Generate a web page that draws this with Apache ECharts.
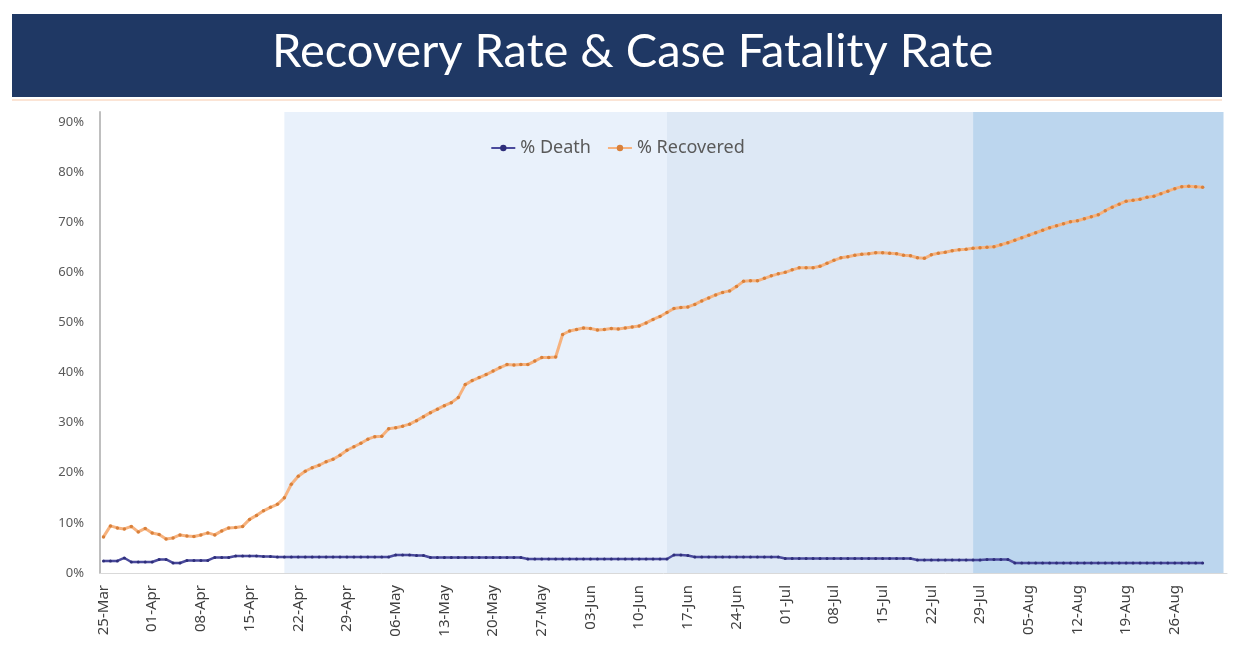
<!DOCTYPE html>
<html>
<head>
<meta charset="utf-8">
<title>Recovery Rate & Case Fatality Rate</title>
<script src="https://cdn.jsdelivr.net/npm/echarts@6/dist/echarts.min.js"></script>
<style>
  html, body { margin: 0; padding: 0; background: #fff; }
  #main { width: 1235px; height: 663px; }
</style>
</head>
<body>
<div id="main"></div>
<script>
// daily values from 25-Mar to 30-Aug, in %
const recovered = [
  7.2, 9.4, 9.0, 8.8, 9.3, 8.2, 8.9, 8.0, 7.7, 6.8,
  7.0, 7.6, 7.4, 7.3, 7.6, 8.0, 7.6, 8.4, 9.0, 9.1,
  9.3, 10.7, 11.5, 12.4, 13.1, 13.7, 15.0, 17.7, 19.3, 20.3,
  21.0, 21.5, 22.2, 22.7, 23.5, 24.5, 25.2, 25.9, 26.7, 27.2,
  27.3, 28.8, 29.0, 29.3, 29.7, 30.4, 31.2, 32.0, 32.7, 33.4,
  34.0, 35.0, 37.6, 38.4, 39.0, 39.6, 40.3, 41.0, 41.6, 41.5,
  41.6, 41.6, 42.3, 43.0, 43.0, 43.1, 47.6, 48.3, 48.6, 48.9,
  48.8, 48.5, 48.6, 48.8, 48.7, 48.9, 49.1, 49.3, 49.9, 50.6,
  51.2, 52.0, 52.8, 53.0, 53.1, 53.6, 54.3, 54.9, 55.5, 56.0,
  56.3, 57.2, 58.2, 58.3, 58.3, 58.8, 59.3, 59.7, 60.0, 60.5,
  60.9, 60.9, 60.9, 61.2, 61.8, 62.4, 62.9, 63.1, 63.4, 63.6,
  63.7, 63.9, 63.9, 63.8, 63.7, 63.4, 63.3, 62.9, 62.8, 63.5,
  63.8, 64.0, 64.3, 64.5, 64.6, 64.8, 64.9, 65.0, 65.1, 65.5,
  65.9, 66.4, 66.9, 67.4, 67.9, 68.4, 68.9, 69.3, 69.7, 70.1,
  70.3, 70.7, 71.1, 71.5, 72.3, 73.0, 73.6, 74.2, 74.4, 74.6,
  75.0, 75.2, 75.7, 76.2, 76.7, 77.1, 77.2, 77.1, 77.0
];

const death = [
  2.4, 2.4, 2.4, 3.0, 2.2, 2.2, 2.2, 2.2, 2.7, 2.7,
  2.0, 2.0, 2.5, 2.5, 2.5, 2.5, 3.1, 3.1, 3.1, 3.4,
  3.4, 3.4, 3.4, 3.3, 3.3, 3.2, 3.2, 3.2, 3.2, 3.2,
  3.2, 3.2, 3.2, 3.2, 3.2, 3.2, 3.2, 3.2, 3.2, 3.2,
  3.2, 3.2, 3.6, 3.6, 3.6, 3.5, 3.5, 3.1, 3.1, 3.1,
  3.1, 3.1, 3.1, 3.1, 3.1, 3.1, 3.1, 3.1, 3.1, 3.1,
  3.1, 2.8, 2.8, 2.8, 2.8, 2.8, 2.8, 2.8, 2.8, 2.8,
  2.8, 2.8, 2.8, 2.8, 2.8, 2.8, 2.8, 2.8, 2.8, 2.8,
  2.8, 2.8, 3.6, 3.6, 3.5, 3.2, 3.2, 3.2, 3.2, 3.2,
  3.2, 3.2, 3.2, 3.2, 3.2, 3.2, 3.2, 3.2, 2.9, 2.9,
  2.9, 2.9, 2.9, 2.9, 2.9, 2.9, 2.9, 2.9, 2.9, 2.9,
  2.9, 2.9, 2.9, 2.9, 2.9, 2.9, 2.9, 2.6, 2.6, 2.6,
  2.6, 2.6, 2.6, 2.6, 2.6, 2.6, 2.6, 2.7, 2.7, 2.7,
  2.7, 2.0, 2.0, 2.0, 2.0, 2.0, 2.0, 2.0, 2.0, 2.0,
  2.0, 2.0, 2.0, 2.0, 2.0, 2.0, 2.0, 2.0, 2.0, 2.0,
  2.0, 2.0, 2.0, 2.0, 2.0, 2.0, 2.0, 2.0, 2.0
];

// shaded phases: start day, end day, colour
const phaseStart = ['20-Apr', '14-Jun', '28-Jul'];
const phaseEnd = ['14-Jun', '28-Jul', '02-Sep'];
const phaseColor = ['#e9f1fb', '#dde8f5', '#bcd6ee'];

const yTicks = [0, 10, 20, 30, 40, 50, 60, 70, 80, 90];

// day labels 25-Mar .. 02-Sep
const months = ['Jan', 'Feb', 'Mar', 'Apr', 'May', 'Jun', 'Jul', 'Aug', 'Sep', 'Oct', 'Nov', 'Dec'];
const days = [];
for (let i = 0; i < 162; i++) {
  const dt = new Date(Date.UTC(2020, 2, 25 + i));
  const dd = String(dt.getUTCDate()).padStart(2, '0');
  days.push(dd + '-' + months[dt.getUTCMonth()]);
}

const chart = echarts.init(document.getElementById('main'));

const bands = phaseStart.map(function (s, i) {
  return [
    { xAxis: s, yAxis: 0, itemStyle: { color: phaseColor[i] } },
    { xAxis: phaseEnd[i], yAxis: 92 }
  ];
});

const option = {
  backgroundColor: '#ffffff',
  animation: false,
  graphic: [
    {
      type: 'rect',
      shape: { x: 12, y: 14, width: 1210, height: 83 },
      style: { fill: '#1f3864' },
      z: 0
    },
    {
      type: 'line',
      shape: { x1: 12, y1: 100, x2: 1222, y2: 100 },
      style: { stroke: '#fbe4d5', lineWidth: 2 }
    }
  ],
  title: {
    text: 'Recovery Rate & Case Fatality Rate',
    left: 267,
    top: 23,
    textStyle: {
      color: '#ffffff',
      fontFamily: 'Lato',
      fontWeight: 'normal',
      fontSize: 47
    }
  },
  legend: {
    top: 134,
    left: 'center',
    itemWidth: 24,
    itemHeight: 8,
    itemGap: 16,
    textStyle: { color: '#595959', fontSize: 18, fontFamily: 'Noto Sans' },
    data: ['% Death', '% Recovered']
  },
  grid: {
    left: 100,
    right: 8,
    top: 112,
    bottom: 90
  },
  xAxis: {
    type: 'category',
    data: days,
    boundaryGap: true,
    axisLine: { lineStyle: { color: '#d9d9d9', width: 1 } },
    axisTick: { show: false },
    axisLabel: {
      rotate: 90,
      color: '#404040',
      fontSize: 15,
      fontFamily: 'Noto Sans',
      margin: 12,
      interval: function (i) { return i % 7 === 0 && i < 160; }
    }
  },
  yAxis: {
    type: 'value',
    min: 0,
    max: 92,
    interval: 10,
    axisLine: { show: true, lineStyle: { color: '#bfbfbf', width: 2 } },
    axisTick: { show: false },
    splitLine: { show: false },
    axisLabel: {
      color: '#595959',
      fontSize: 13,
      fontFamily: 'Noto Sans',
      margin: 16,
      formatter: function (v) {
        return yTicks.indexOf(v) >= 0 ? v + '%' : '';
      }
    }
  },
  series: [
    {
      name: '% Death',
      type: 'line',
      data: death,
      symbol: 'circle',
      symbolSize: 3,
      showAllSymbol: true,
      lineStyle: { color: '#4a4a9c', width: 2.5 },
      itemStyle: { color: '#2e2e7a' },
      markArea: { silent: true, data: bands },
      z: 3
    },
    {
      name: '% Recovered',
      type: 'line',
      data: recovered,
      symbol: 'circle',
      symbolSize: 3.5,
      showAllSymbol: true,
      lineStyle: { color: '#f6b27e', width: 3 },
      itemStyle: { color: '#d9803a' },
      z: 4
    }
  ]
};

chart.setOption(option);
</script>
</body>
</html>
